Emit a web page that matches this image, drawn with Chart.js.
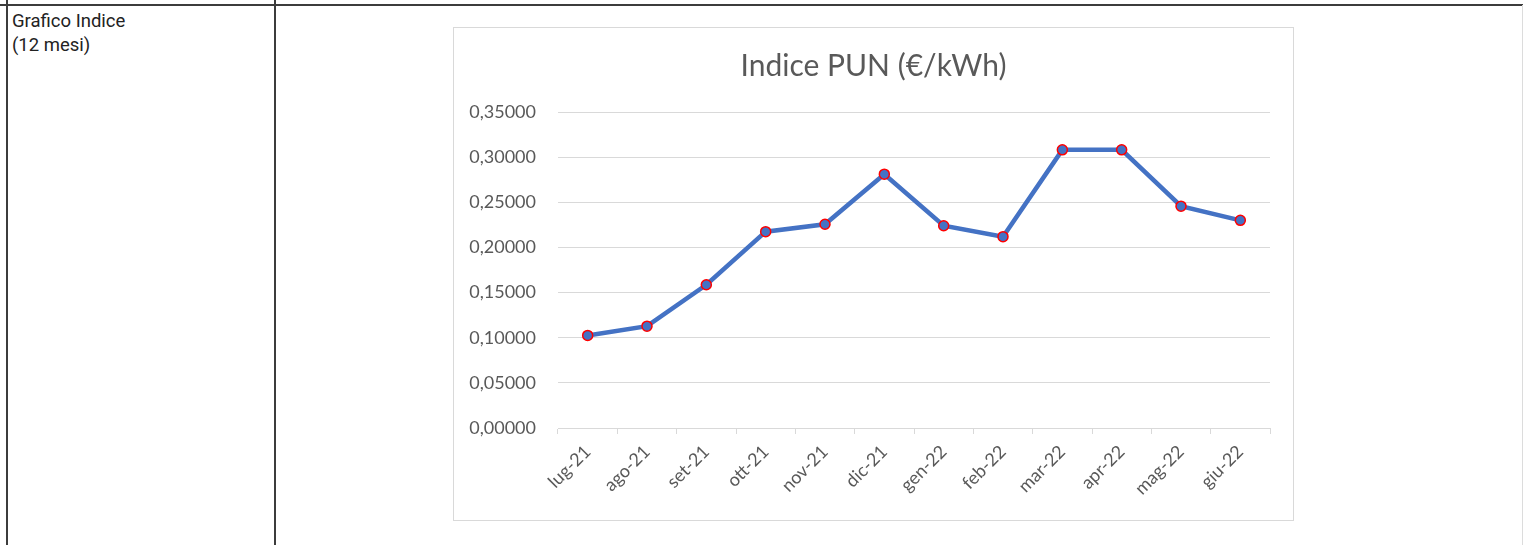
<!DOCTYPE html>
<html>
<head>
<meta charset="utf-8">
<script src="https://cdn.jsdelivr.net/npm/chart.js@4.4.1/dist/chart.umd.min.js"></script>
<style>
  html, body { margin: 0; padding: 0; background: #fff; width: 1525px; height: 545px; overflow: hidden; }
  .hline { position: absolute; left: 0; top: 4px; width: 1523px; height: 2px; background: #3c3c3c; }
  .vline { position: absolute; top: 0; width: 2px; height: 545px; background: #3c3c3c; }
  .vright { position: absolute; left: 1522px; top: 5px; width: 1px; height: 540px; background: #dcdcdc; }
  .label { position: absolute; left: 12px; top: 9px; font-family: Roboto, sans-serif; font-size: 18.5px; line-height: 24px; color: #222; }
  .box { position: absolute; left: 453px; top: 27px; width: 839px; height: 492px; border: 1px solid #d9d9d9; background: #fff; }
  .box canvas { display: block; }
</style>
</head>
<body>
<div class="hline"></div>
<div class="vline" style="left:6px"></div>
<div class="vline" style="left:274px"></div>
<div class="vright"></div>
<div class="label">Grafico Indice<br>(12 mesi)</div>
<div class="box"><canvas id="c" width="839" height="492"></canvas></div>
<script>
const categories = ["lug-21","ago-21","set-21","ott-21","nov-21","dic-21","gen-22","feb-22","mar-22","apr-22","mag-22","giu-22"];
const punValues = [0.10255, 0.11283, 0.15866, 0.21744, 0.22563, 0.28112, 0.22407, 0.21191, 0.30807, 0.30807, 0.24571, 0.23002];
const chartTitle = "Indice PUN (€/kWh)";
const yMin = 0, yMax = 0.35, yStep = 0.05;

const FONT = "Lato, 'Open Sans', sans-serif";
new Chart(document.getElementById('c'), {
  type: 'line',
  data: {
    labels: categories,
    datasets: [{
      data: punValues,
      borderColor: '#4472C4',
      borderWidth: 4.5,
      backgroundColor: '#4472C4',
      pointBackgroundColor: '#4472C4',
      pointBorderColor: '#FF0000',
      pointBorderWidth: 1.5,
      pointRadius: 5,
      tension: 0,
      fill: false,
      yAxisID: 'y'
    }]
  },
  options: {
    responsive: false,
    animation: false,
    devicePixelRatio: 1,
    layout: { padding: 0 },
    plugins: {
      legend: { display: false },
      tooltip: { enabled: false },
      title: {
        display: true,
        text: chartTitle,
        color: '#595959',
        font: { family: FONT, size: 30, weight: 'normal' },
        padding: { top: 20, bottom: 28 }
      }
    },
    scales: {
      x: {
        offset: true,
        grid: { display: true, drawOnChartArea: false, drawTicks: true, tickLength: 6, offset: true, color: '#d9d9d9' },
        border: { display: true, color: '#d9d9d9', width: 1 },
        ticks: {
          color: '#595959',
          font: { family: FONT, size: 18 },
          minRotation: 45, maxRotation: 45,
          padding: 7,
          autoSkip: false
        },
        afterFit: (s) => { s.height = 92; }
      },
      y: {
        min: yMin, max: yMax,
        grid: { color: '#d9d9d9', drawTicks: false, lineWidth: 1 },
        border: { display: false },
        ticks: {
          stepSize: yStep,
          color: '#595959',
          font: { family: FONT, size: 18 },
          padding: 22,
          callback: (v) => Number(v).toFixed(5).replace('.', ',')
        },
        afterFit: (s) => { s.width = 104; }
      },
      yRight: {
        position: 'right',
        min: yMin, max: yMax,
        grid: { display: false, drawOnChartArea: false, drawTicks: false },
        border: { display: false },
        ticks: { display: false },
        afterFit: (s) => { s.width = 23; }
      }
    }
  }
});
</script>
</body>
</html>
